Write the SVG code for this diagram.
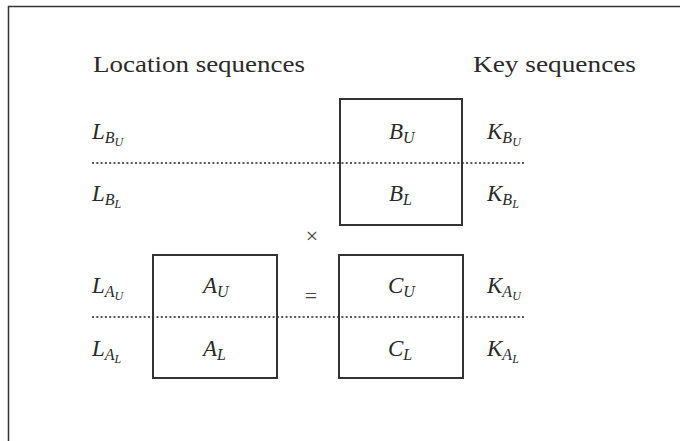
<svg xmlns="http://www.w3.org/2000/svg" width="680" height="441" viewBox="0 0 680 441">
  <style>
    .frame { fill: none; stroke: #333; stroke-width: 1.5; }
    .box { fill: none; stroke: #333; stroke-width: 2; }
    .dots { stroke: #222; stroke-width: 1.6; stroke-dasharray: 2 2.3; }
    .head { font-family: "Liberation Serif", serif; font-size: 23px; fill: #2a2a2a; }
    .m { font-family: "Liberation Serif", serif; font-style: italic; font-size: 23px; fill: #2a2a2a; }
    .s1 { font-size: 16px; }
    .s2 { font-size: 12px; }
    .op { font-family: "Liberation Serif", serif; font-size: 22px; fill: #444; }
  </style>

  <rect width="680" height="441" fill="#ffffff"/>
  <!-- page edge -->
  <path class="frame" d="M8.5 441 V6.5 H680"/>

  <!-- column headings -->
  <g id="heading-location"><text class="head" x="93" y="72" textLength="212" lengthAdjust="spacingAndGlyphs">Location sequences</text></g>
  <g id="heading-key"><text class="head" x="473" y="72" textLength="163" lengthAdjust="spacingAndGlyphs">Key sequences</text></g>

  <!-- split lines between upper and lower halves -->
  <g id="connectors">
    <line class="dots" x1="92" y1="163" x2="524" y2="163"/>
    <line class="dots" x1="92" y1="317" x2="524" y2="317"/>
  </g>

  <!-- matrix B -->
  <g id="matrix-B">
    <rect class="box" x="340" y="99" width="122" height="126"/>
    <text class="m" x="389" y="139">B<tspan class="s1" dy="4">U</tspan></text>
    <text class="m" x="389" y="201">B<tspan class="s1" dy="4">L</tspan></text>
  </g>

  <!-- matrix A -->
  <g id="matrix-A">
    <rect class="box" x="153" y="255" width="124" height="123"/>
    <text class="m" x="203" y="293">A<tspan class="s1" dy="4">U</tspan></text>
    <text class="m" x="203" y="356">A<tspan class="s1" dy="4">L</tspan></text>
  </g>

  <!-- matrix C -->
  <g id="matrix-C">
    <rect class="box" x="339" y="255" width="124" height="123"/>
    <text class="m" x="388" y="293">C<tspan class="s1" dy="4">U</tspan></text>
    <text class="m" x="388" y="356">C<tspan class="s1" dy="4">L</tspan></text>
  </g>

  <!-- operators -->
  <g id="op-times"><text class="op" x="312" y="243" text-anchor="middle">×</text></g>
  <g id="op-equals"><text class="op" x="311" y="303" text-anchor="middle" fill="#777">=</text></g>

  <!-- location sequence labels -->
  <g id="loc-BU"><text class="m" x="92" y="139">L<tspan class="s1" dy="4">B</tspan><tspan class="s2" dy="3">U</tspan></text></g>
  <g id="loc-BL"><text class="m" x="92" y="201">L<tspan class="s1" dy="4">B</tspan><tspan class="s2" dy="3">L</tspan></text></g>
  <g id="loc-AU"><text class="m" x="92" y="293">L<tspan class="s1" dy="4">A</tspan><tspan class="s2" dy="3">U</tspan></text></g>
  <g id="loc-AL"><text class="m" x="92" y="356">L<tspan class="s1" dy="4">A</tspan><tspan class="s2" dy="3">L</tspan></text></g>

  <!-- key sequence labels -->
  <g id="key-BU"><text class="m" x="487" y="139">K<tspan class="s1" dy="4">B</tspan><tspan class="s2" dy="3">U</tspan></text></g>
  <g id="key-BL"><text class="m" x="487" y="201">K<tspan class="s1" dy="4">B</tspan><tspan class="s2" dy="3">L</tspan></text></g>
  <g id="key-AU"><text class="m" x="487" y="293">K<tspan class="s1" dy="4">A</tspan><tspan class="s2" dy="3">U</tspan></text></g>
  <g id="key-AL"><text class="m" x="487" y="356">K<tspan class="s1" dy="4">A</tspan><tspan class="s2" dy="3">L</tspan></text></g>
</svg>
